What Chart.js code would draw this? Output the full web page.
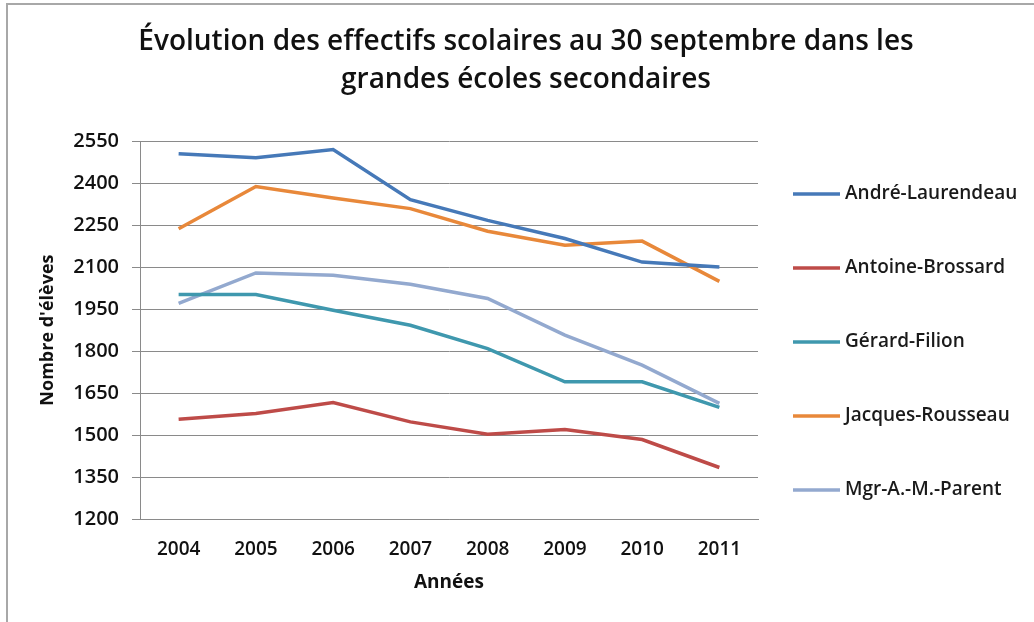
<!DOCTYPE html>
<html lang="fr">
<head>
<meta charset="utf-8">
<title>Évolution des effectifs scolaires</title>
<script src="https://cdn.jsdelivr.net/npm/chart.js@4.4.1/dist/chart.umd.min.js"></script>
<style>
    html, body { margin: 0; padding: 0; background: #fff; overflow: hidden; }
    #wrap { position: relative; width: 1034px; height: 622px; }
</style>
</head>
<body>
<div id="wrap"><canvas id="effectifsChart"></canvas></div>
<script>
// Data
const annees = ['2004', '2005', '2006', '2007', '2008', '2009', '2010', '2011'];
const ecoles = ['André-Laurendeau', 'Antoine-Brossard', 'Gérard-Filion', 'Jacques-Rousseau', 'Mgr-A.-M.-Parent'];
const andreLaurendeau = [2505, 2491, 2520, 2341, 2267, 2202, 2118, 2100];
const antoineBrossard = [1556, 1577, 1616, 1547, 1503, 1520, 1484, 1384];
const gerardFilion = [2002, 2002, 1946, 1892, 1809, 1690, 1690, 1599];
const jacquesRousseau = [2237, 2388, 2347, 2309, 2228, 2178, 2193, 2049];
const mgrParent = [1970, 2079, 2071, 2039, 1988, 1857, 1750, 1613];
const yTicks = [1200, 1350, 1500, 1650, 1800, 1950, 2100, 2250, 2400, 2550];

const couleurs = ['#4679B8', '#BE4B48', '#3F98AE', '#E8883A', '#93A9CF'];
const series = [andreLaurendeau, antoineBrossard, gerardFilion, jacquesRousseau, mgrParent];

const FONT = '"Open Sans", "DejaVu Sans", sans-serif';
const GRID = '#8a8a8a';

// Frame: only the top and left edges show in the reference
const cadre = {
    id: 'cadre',
    beforeDraw(chart) {
        const ctx = chart.ctx;
        ctx.save();
        ctx.fillStyle = '#fff';
        ctx.fillRect(0, 0, chart.width, chart.height);
        ctx.strokeStyle = '#a8a8a8';
        ctx.lineWidth = 2;
        ctx.beginPath();
        ctx.moveTo(7, chart.height);
        ctx.lineTo(7, 4);
        ctx.lineTo(chart.width, 4);
        ctx.stroke();
        ctx.restore();
    }
};

// Legend on the right side, one line sample + name per school
const legende = {
    id: 'legende',
    afterDraw(chart) {
        const ctx = chart.ctx;
        const x0 = chart.chartArea.right + 35;
        const top = 194, step = 74;
        ctx.save();
        ctx.font = '600 19px ' + FONT;
        ctx.textBaseline = 'middle';
        ctx.fillStyle = '#1a1a1a';
        chart.data.datasets.forEach((ds, i) => {
            const y = top + i * step;
            ctx.strokeStyle = ds.borderColor;
            ctx.lineWidth = 3.5;
            ctx.beginPath();
            ctx.moveTo(x0, y);
            ctx.lineTo(x0 + 47, y);
            ctx.stroke();
            ctx.fillText(ds.label, x0 + 52, y);
        });
        ctx.restore();
    }
};

const ctx = document.getElementById('effectifsChart');
new Chart(ctx, {
    type: 'line',
    data: {
        labels: annees,
        datasets: ecoles.map((nom, i) => ({
            label: nom,
            data: series[i],
            borderColor: couleurs[i],
            backgroundColor: couleurs[i],
            borderWidth: 3.5,
            pointRadius: 0,
            tension: 0,
            yAxisID: 'y'
        }))
    },
    options: {
        responsive: true,
        maintainAspectRatio: false,
        animation: false,
        layout: { padding: { left: 18, right: 0, top: 0, bottom: 0 } },
        plugins: {
            legend: { display: false },
            tooltip: { enabled: false },
            title: {
                display: true,
                text: ['Évolution des effectifs scolaires au 30 septembre dans les', 'grandes écoles secondaires'],
                color: '#111',
                font: { family: FONT, size: 28, weight: '600', lineHeight: 1.36 },
                padding: { top: 23, bottom: 42 }
            }
        },
        scales: {
            x: {
                offset: true,
                grid: { display: false },
                border: { display: true, color: GRID, width: 1 },
                ticks: {
                    color: '#111',
                    padding: 11,
                    font: { family: FONT, size: 19, weight: '600' }
                },
                title: {
                    display: true,
                    text: 'Années',
                    color: '#111',
                    font: { family: FONT, size: 19, weight: 'bold', lineHeight: 1.2 },
                    padding: { top: 0, bottom: 28 }
                },
                afterFit(scale) { scale.height = 103; }
            },
            y: {
                min: 1200,
                max: 2550,
                afterBuildTicks(scale) { scale.ticks = yTicks.map(v => ({ value: v })); },
                grid: { color: GRID, lineWidth: 1, tickLength: 8, tickColor: GRID },
                border: { display: true, color: GRID, width: 1 },
                ticks: {
                    color: '#111',
                    padding: 13,
                    font: { family: FONT, size: 20, weight: '600' },
                    callback: (v) => String(v)
                },
                title: {
                    display: true,
                    text: "Nombre d'élèves",
                    color: '#111',
                    font: { family: FONT, size: 18, weight: 'bold', lineHeight: 1.2 },
                    padding: { top: 19, bottom: 0 }
                },
                afterFit(scale) { scale.width = 122; }
            },
            place: {
                // empty right-side axis that only reserves room for the legend
                type: 'linear',
                position: 'right',
                display: true,
                grid: { display: false },
                border: { display: false },
                ticks: { display: false },
                afterFit(scale) { scale.width = 276; }
            }
        }
    },
    plugins: [cadre, legende]
});
</script>
</body>
</html>
